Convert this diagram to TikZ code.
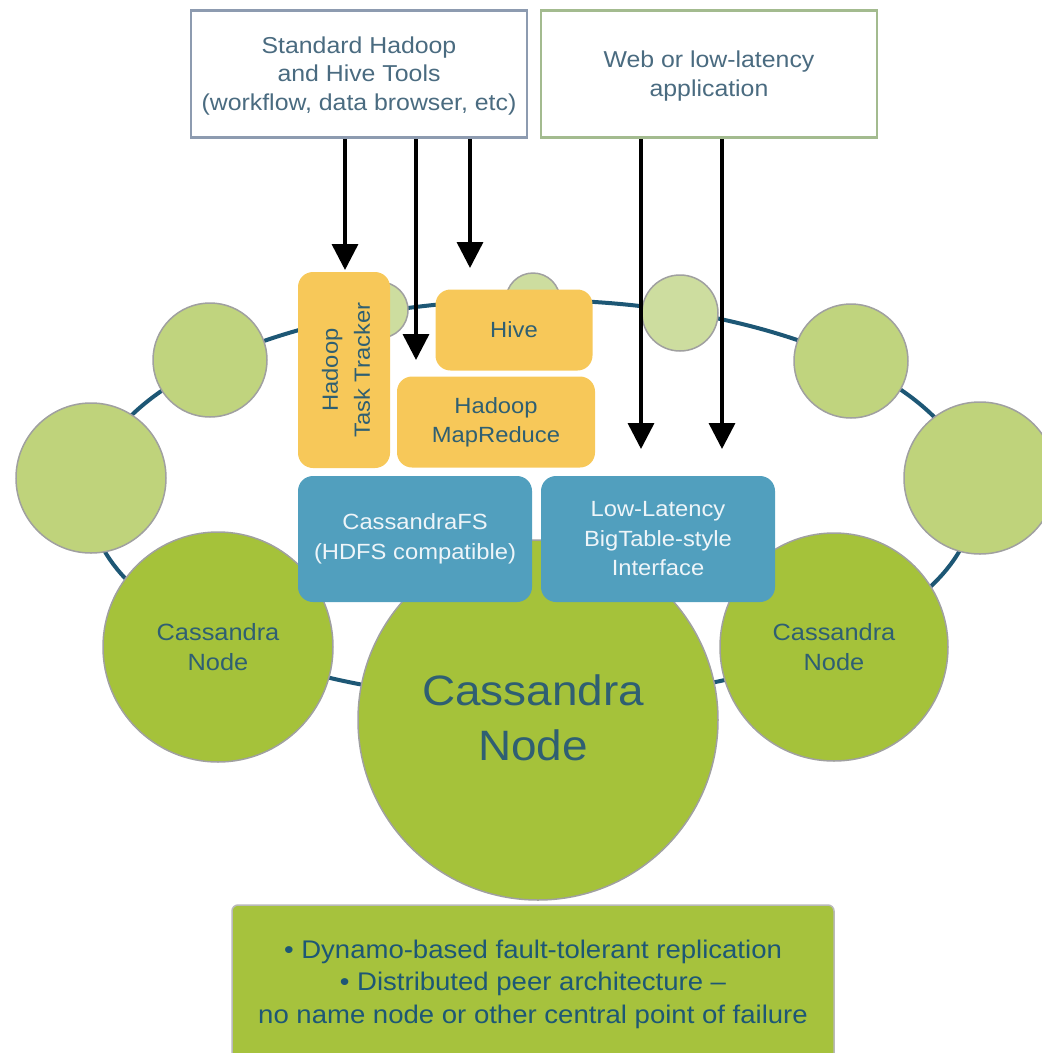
\documentclass[tikz,border=0pt]{standalone}
\usepackage{fontspec}
\setmainfont{Liberation Sans}[FakeStretch=1.08]
\usetikzlibrary{arrows.meta}
\definecolor{ringc}{HTML}{1D5775}
\definecolor{lightA}{HTML}{CDDD9F}
\definecolor{lightB}{HTML}{C0D47E}
\definecolor{nodeg}{HTML}{A5C23A}
\definecolor{yel}{HTML}{F7C859}
\definecolor{blu}{HTML}{519FBE}
\definecolor{botg}{HTML}{A6C23D}
\definecolor{tealt}{HTML}{2F5F72}
\definecolor{topt}{HTML}{4A6B80}
\definecolor{bordA}{HTML}{8D9BB0}
\definecolor{bordB}{HTML}{A3BB8F}
\definecolor{bordC}{HTML}{A0A0A0}
\tikzset{
  topbox/.style={draw, line width=2.5pt, fill=white, inner sep=0pt,
    minimum width=336pt, minimum height=127pt, align=center, text=topt,
    font=\fontsize{23}{28.5}\selectfont},
  ball/.style={circle, draw=bordC, line width=1.5pt, inner sep=0pt},
  cnode/.style={ball, fill=nodeg, text=tealt, align=center},
  ybox/.style={rounded corners=15pt, fill=yel, inner sep=0pt, align=center,
    text=tealt, font=\fontsize{22}{29}\selectfont},
  bbox/.style={rounded corners=15pt, fill=blu, inner sep=0pt, align=center,
    text=white!90!blu, font=\fontsize{22}{29.5}\selectfont,
    minimum width=234pt, minimum height=126pt},
  arr/.style={line width=3.5pt, -{Triangle[width=26pt,length=26pt]}},
}
\begin{document}
\begin{tikzpicture}[x=1pt,y=-1pt]
\useasboundingbox (0,0) rectangle (1042,1053);
\begin{scope}
\clip (0,0) rectangle (1042,1053);
% ring
\draw[ringc, line width=4pt] (532,500) ellipse [x radius=442, y radius=200];
% background circles
\node[ball, fill=lightA, minimum size=54pt] (s1) at (533,300) {};
\node[ball, fill=lightA, minimum size=56pt] (s2) at (380,310) {};
\node[ball, fill=lightA, minimum size=76pt] (s3) at (680,313) {};
\node[ball, fill=lightB, minimum size=114pt] (m1) at (210,360) {};
\node[ball, fill=lightB, minimum size=114pt] (m2) at (851,361) {};
\node[ball, fill=lightB!95!nodeg, minimum size=150pt] (b1) at (91,478) {};
\node[ball, fill=lightB!95!nodeg, minimum size=152pt] (b2) at (980,478) {};
% Cassandra nodes
\node[cnode, minimum size=230pt, font=\fontsize{23.5}{30}\selectfont] (cl) at (218,647) {Cassandra\\Node};
\node[cnode, minimum size=228pt, font=\fontsize{23.5}{30}\selectfont] (cr) at (834,647) {Cassandra\\Node};
\node[cnode, minimum size=360pt] (cc) at (538,720) {};
\node[text=tealt, align=center, font=\fontsize{42.5}{55}\selectfont] (ccl) at (533,718) {Cassandra\\Node};
\end{scope}
% top boxes
\node[topbox, draw=bordA] (tools) at (359,74) {};
\node[text=topt, align=center, font=\fontsize{23}{28.5}\selectfont] (toolsl) at (359,76) {Standard Hadoop\\and Hive Tools\\(workflow, data browser, etc)};
\node[topbox, draw=bordB] (web) at (709,74) {};
\node[text=topt, align=center, font=\fontsize{23}{29}\selectfont] (webl) at (709,76) {Web or low-latency\\application};
% yellow boxes
\node[ybox, minimum width=92pt, minimum height=196pt] (tt) at (344,370) {};
\node[rotate=90, text=tealt, align=center, font=\fontsize{22}{32}\selectfont] (ttl) at (346,370) {Hadoop\\Task Tracker};
\node[ybox, minimum width=157pt, minimum height=81pt] (hive) at (514,330) {Hive};
\node[ybox, minimum width=198pt, minimum height=91pt] (mr) at (496,422) {Hadoop\\MapReduce};
% blue boxes
\node[bbox] (cfs) at (415,539) {CassandraFS\\(HDFS compatible)};
\node[bbox] (ll) at (658,539) {Low-Latency\\BigTable-style\\Interface};
% arrow targets
\coordinate (t1) at (345,270);
\coordinate (t2) at (416,360);
\coordinate (t3) at (470,268);
\coordinate (t4) at (641,449);
\coordinate (t5) at (722,449);
\draw[arr] (tools.south -| t1) -- (t1);
\draw[arr] (tools.south -| t2) -- (t2);
\draw[arr] (tools.south -| t3) -- (t3);
\draw[arr] (web.south -| t4) -- (t4);
\draw[arr] (web.south -| t5) -- (t5);
% bottom box
\node[draw=gray!55, line width=1.5pt, fill=botg, rounded corners=6pt,
  minimum width=602pt, minimum height=160pt, inner sep=0pt] (feat) at (533,985) {};
\node[text=ringc, align=center, font=\fontsize{25.5}{32.5}\selectfont] (featl) at (533,984)
  {• Dynamo-based fault-tolerant replication\\• Distributed peer architecture –\\no name node or other central point of failure};
\end{tikzpicture}
\end{document}
